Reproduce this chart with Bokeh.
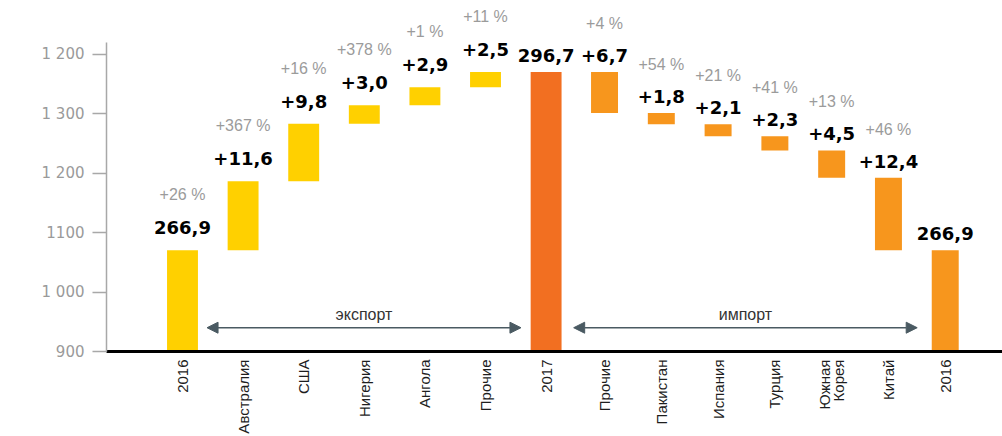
import math
from bokeh.plotting import figure
from bokeh.models import (ColumnDataSource, LabelSet, Label, Range1d, FixedTicker,
                          Arrow, NormalHead)
from bokeh.core.properties import value
from bokeh.embed import file_html
from bokeh.resources import INLINE

# ---------------- data ----------------
categories = ["2016", "Австралия", "США", "Нигерия", "Ангола", "Прочие", "2017",
              "Прочие", "Пакистан", "Испания", "Турция", "Южная\nКорея", "Китай", "2016"]
value_labels = ["266,9", "+11,6", "+9,8", "+3,0", "+2,9", "+2,5", "296,7",
                "+6,7", "+1,8", "+2,1", "+2,3", "+4,5", "+12,4", "266,9"]
pct_labels = ["+26 %", "+367 %", "+16 %", "+378 %", "+1 %", "+11 %", "",
              "+4 %", "+54 %", "+21 %", "+41 %", "+13 %", "+46 %", ""]
start_level = 1070                        # height of the 2016 bar (axis units)
export_steps = [116, 97, 31, 30, 26]      # export increments (axis units)
import_steps = [69, 19, 20, 24, 46, 122]  # import increments (axis units)
y_ticks = [900, 1000, 1100, 1200, 1300, 1400]
y_tick_labels = ["900", "1 000", "1100", "1 200", "1 300", "1 200"]
section_labels = ["экспорт", "импорт"]

# ---------------- waterfall geometry ----------------
AXIS_MIN = 900
bottoms, tops = [], []
level = start_level
bottoms.append(AXIS_MIN); tops.append(level)
for d in export_steps:
    bottoms.append(level); level += d; tops.append(level)
bottoms.append(AXIS_MIN); tops.append(level)
for d in import_steps:
    tops.append(level); level -= d; bottoms.append(level)
bottoms.append(AXIS_MIN); tops.append(level)

n_exp = len(export_steps) + 2
n_imp = len(import_steps) + 1
IMPORT_GAP = 0.964
IMPORT_STEP = 0.937
xs = [float(i) for i in range(n_exp)]
xs += [round(xs[-1] + IMPORT_GAP + IMPORT_STEP * j, 3) for j in range(n_imp)]
widths = [0.51] * n_exp + [0.445] * n_imp
colors = ["#FFD000"] * (n_exp - 1) + ["#F26F21"] + ["#F7961D"] * n_imp
val_off = [16] * (n_exp - 1) + [10] * (n_imp + 1)
pct_off = [47] * (n_exp - 1) + [40] * (n_imp + 1)

src = ColumnDataSource(dict(x=xs, top=tops, bottom=bottoms, w=widths, color=colors,
                            val=value_labels, pct=pct_labels, vo=val_off, po=pct_off))

p = figure(width=1002, height=436, output_backend="svg", toolbar_location=None,
           x_range=Range1d(-1.254, 13.531), y_range=Range1d(900, 1490),
           min_border_left=106, min_border_right=0, min_border_top=0, min_border_bottom=83)
p.outline_line_color = None
p.xgrid.visible = False
p.ygrid.visible = False
p.background_fill_color = "white"

p.vbar(x="x", width="w", top="top", bottom="bottom", fill_color="color",
       line_color=None, source=src)

# y axis
p.yaxis.ticker = FixedTicker(ticks=y_ticks)
p.yaxis.major_label_overrides = {t: l for t, l in zip(y_ticks, y_tick_labels)}
p.yaxis.bounds = (900, 1420)
p.yaxis.axis_line_color = "#a8a8a8"
p.yaxis.axis_line_width = 1.5
p.yaxis.major_tick_line_color = "#a8a8a8"
p.yaxis.major_tick_line_width = 1.5
p.yaxis.major_tick_out = 14
p.yaxis.major_tick_in = 0
p.yaxis.minor_tick_line_color = None
p.yaxis.major_label_standoff = 8
p.yaxis.major_label_text_font = "DejaVu Sans"
p.yaxis.major_label_text_font_size = "15px"
p.yaxis.major_label_text_color = "#9a9a9a"

# x axis with vertical category labels
p.xaxis.ticker = FixedTicker(ticks=xs)
p.xaxis.major_label_overrides = {x: c for x, c in zip(xs, categories)}
p.xaxis.major_label_orientation = math.pi / 2
p.xaxis.axis_line_color = "black"
p.xaxis.axis_line_width = 3
p.xaxis.major_tick_line_color = None
p.xaxis.major_tick_out = 0
p.xaxis.major_tick_in = 0
p.xaxis.minor_tick_line_color = None
p.xaxis.major_label_standoff = 8
p.xaxis.major_label_text_font = "Liberation Sans"
p.xaxis.major_label_text_font_size = "15px"
p.xaxis.major_label_text_color = "#1e1e1e"
p.xaxis.major_label_text_line_height = 0.85

# value labels
p.add_layout(LabelSet(x="x", y="top", text="val", y_offset="vo", source=src,
                      text_align="center", text_baseline="bottom",
                      text_font=value("DejaVu Sans"), text_font_style="bold",
                      text_font_size="18px", text_color="black"))
# percent labels
p.add_layout(LabelSet(x="x", y="top", text="pct", y_offset="po", source=src,
                      text_align="center", text_baseline="bottom",
                      text_font=value("Liberation Sans"), text_font_size="16px",
                      text_color="#9b9b9b"))

# section arrows
ARROW_Y = 940
ARROW_COLOR = "#4a5a62"
spans = [(xs[0] + widths[0] / 2 + 0.15, xs[n_exp - 1] - widths[n_exp - 1] / 2 - 0.16),
         (xs[n_exp - 1] + widths[n_exp - 1] / 2 + 0.2, xs[-1] - widths[-1] / 2 - 0.24)]
for (x0, x1), lab in zip(spans, section_labels):
    p.add_layout(Arrow(x_start=x0, y_start=ARROW_Y, x_end=x1, y_end=ARROW_Y,
                       line_color=ARROW_COLOR, line_width=1.5,
                       start=NormalHead(size=11, fill_color=ARROW_COLOR, line_color=ARROW_COLOR),
                       end=NormalHead(size=11, fill_color=ARROW_COLOR, line_color=ARROW_COLOR)))
    p.add_layout(Label(x=(x0 + x1) / 2, y=ARROW_Y, y_offset=13, text=lab,
                       text_align="center", text_baseline="middle",
                       text_font="Liberation Sans", text_font_size="16px",
                       text_color="#333333"))

open("out.html", "w").write(file_html(p, INLINE))
